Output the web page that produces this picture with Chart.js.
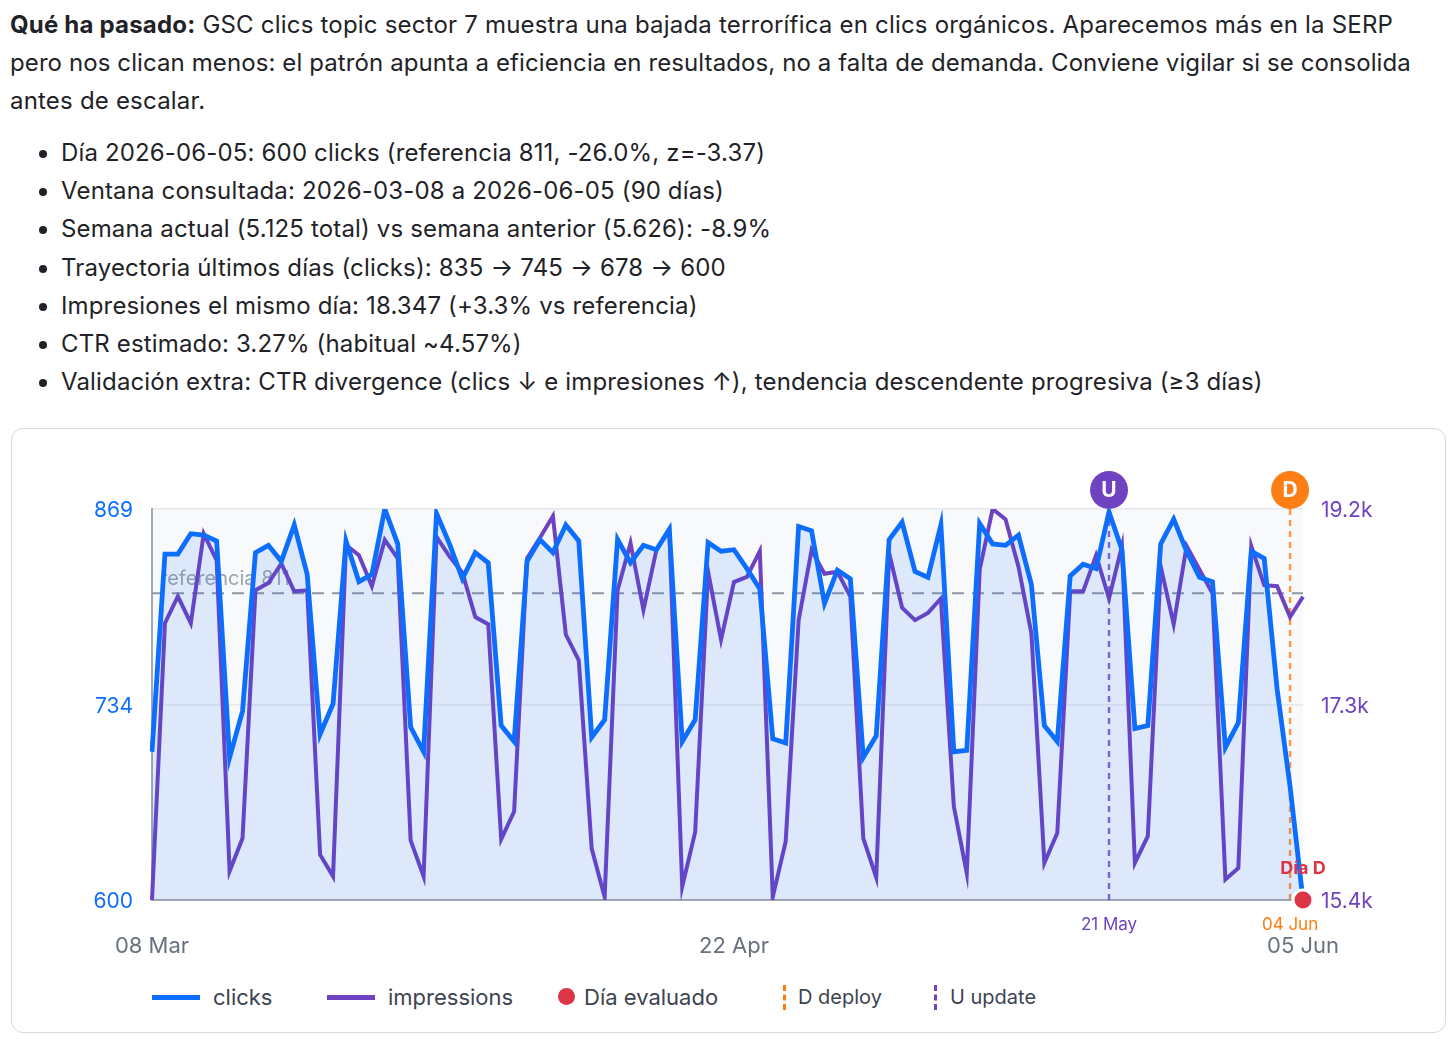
<!DOCTYPE html>
<html lang="es">
<head>
<meta charset="utf-8">
<script src="https://cdn.jsdelivr.net/npm/chart.js@4.4.1/dist/chart.umd.min.js"></script>
<style>
  html,body{margin:0;padding:0;background:#fff;}
  body{width:1456px;height:1042px;position:relative;overflow:hidden;font-family:Inter,"Noto Sans",sans-serif;color:#1f2328;}
  #intro{position:absolute;left:10px;top:6px;margin:0;font-size:24px;letter-spacing:0.2px;line-height:38px;white-space:nowrap;}
  #intro .l2{letter-spacing:0.1px;}
  #bullets{position:absolute;left:10px;top:134px;margin:0;padding-left:51px;font-size:24px;letter-spacing:0.15px;line-height:38.2px;white-space:nowrap;}
  #card{position:absolute;left:11px;top:428px;width:1435px;height:605px;box-sizing:border-box;border:1px solid #d6dae0;border-radius:12px;background:#fff;}
  #chartbox{position:absolute;left:0;top:0;width:1432px;height:540px;}
  .lg{position:absolute;top:997px;transform:translateY(-50%);font-size:22px;color:#3d4450;white-space:nowrap;line-height:1;}
  .sw{position:absolute;}
</style>
</head>
<body>
<p id="intro"><b>Qué ha pasado:</b> GSC clics topic sector 7 muestra una bajada terrorífica en clics orgánicos. Aparecemos más en la SERP<br><span class="l2">pero nos clican menos: el patrón apunta a eficiencia en resultados, no a falta de demanda. Conviene vigilar si se consolida</span><br>antes de escalar.</p>
<ul id="bullets">
  <li>Día 2026-06-05: 600 clicks (referencia 811, -26.0%, z=-3.37)</li>
  <li>Ventana consultada: 2026-03-08 a 2026-06-05 (90 días)</li>
  <li>Semana actual (5.125 total) vs semana anterior (5.626): -8.9%</li>
  <li>Trayectoria últimos días (clicks): 835 → 745 → 678 → 600</li>
  <li>Impresiones el mismo día: 18.347 (+3.3% vs referencia)</li>
  <li>CTR estimado: 3.27% (habitual ~4.57%)</li>
  <li>Validación extra: CTR divergence (clics ↓ e impresiones ↑), tendencia descendente progresiva (≥3 días)</li>
</ul>
<div id="card">
  <div id="chartbox"><canvas id="c" width="1432" height="540" style="width:1432px;height:540px"></canvas></div>
</div>

<!-- legend -->
<div class="sw" style="left:152px;top:995px;width:48px;height:5px;background:#0d6efd;"></div>
<div class="lg" style="left:213px;">clicks</div>
<div class="sw" style="left:327px;top:995px;width:48px;height:5px;background:#6f42c1;"></div>
<div class="lg" style="left:388px;">impressions</div>
<div class="sw" style="left:558px;top:988px;width:17px;height:17px;border-radius:50%;background:#dc3545;"></div>
<div class="lg" style="left:584px;">Día evaluado</div>
<div class="sw" style="left:783px;top:985px;width:0;height:25px;border-left:3px dashed #fd7e14;"></div>
<div class="lg" style="left:798px;font-size:20px;">D deploy</div>
<div class="sw" style="left:934px;top:985px;width:0;height:25px;border-left:3px dashed #6f42c1;"></div>
<div class="lg" style="left:950px;font-size:20px;">U update</div>

<script>
// ---------- data ----------
const startDate = '2026-03-08';
const clicks = [
  702, 838, 838, 852, 851, 847, 698, 730, 839, 844,
  833, 858, 824, 714, 735, 847, 819, 824, 869, 845,
  719, 702, 866, 845, 821, 839, 832, 720, 709, 833,
  848, 839, 858, 847, 712, 724, 848, 832, 844, 841,
  855, 709, 724, 846, 840, 841, 828, 814, 711, 708,
  857, 854, 804, 827, 821, 698, 713, 848, 860, 826,
  822, 858, 702, 703, 859, 845, 844, 851, 817, 720,
  709, 823, 831, 828, 867, 841, 718, 720, 845, 862,
  840, 822, 819, 705, 722, 840, 835, 745, 678, 600
];
const impressions = [
  15400, 18090, 18350, 18090, 18960, 18700, 15680, 16000, 18410, 18480,
  18670, 18400, 18410, 15840, 15630, 18850, 18750, 18450, 18900, 18720,
  15980, 15630, 18930, 18740, 18580, 18150, 18080, 15990, 16260, 18720,
  18920, 19130, 17980, 17730, 15900, 15430, 18410, 18870, 18220, 18800,
  19000, 15530, 16060, 18590, 17930, 18490, 18540, 18790, 15430, 15970,
  18120, 18800, 18570, 18590, 18350, 16000, 15620, 18770, 18240, 18120,
  18190, 18330, 16310, 15660, 18610, 19200, 19100, 18640, 17990, 15760,
  16050, 18400, 18400, 18750, 18330, 18840, 15760, 16020, 18640, 18080,
  18840, 18610, 18380, 15600, 15710, 18840, 18460, 18450, 18150, 18347
];
const referenceClicks = 811;
const evaluatedDate = '2026-06-05';
const eventDates = ['2026-05-21', '2026-06-04'];
const eventLetters = ['U', 'D'];
const eventLabels = ['21 May', '04 Jun'];
const xTickDates = ['2026-03-08', '2026-04-22', '2026-06-05'];
const xTickLabels = ['08 Mar', '22 Apr', '05 Jun'];
const clicksRange = [600, 869];
const clicksTickLabels = ['600', '734', '869'];
const imprRange = [15400, 19200];
const imprTickLabels = ['15.4k', '17.3k', '19.2k'];

// categories: consecutive days of the window
const dates = [];
{
  const [yy, mm, dd] = startDate.split('-').map(Number);
  for (let i = 0; i < clicks.length; i++) {
    dates.push(new Date(Date.UTC(yy, mm - 1, dd + i)).toISOString().slice(0, 10));
  }
}
const evalIdx = dates.indexOf(evaluatedDate);
const evalData = dates.map((d, i) => i === evalIdx ? clicks[i] : null);

// ---------- styles ----------
const C = {
  blue: '#0d6efd', purple: '#6f42c1', orange: '#fd7e14', red: '#dc3545',
  grid: '#e4e7eb', axis: '#a3a9b2', tick: '#69717d', plotBg: '#f8f9fb'
};
const eventColors = [C.purple, C.orange];
const FONT = 'Inter, "Noto Sans", sans-serif';

const annotPlugin = {
  id: 'annot',
  beforeDraw(chart) {
    const { ctx, chartArea: a } = chart;
    ctx.save();
    ctx.fillStyle = C.plotBg;
    ctx.fillRect(a.left, a.top, a.right - a.left, a.bottom - a.top);
    ctx.restore();
  },
  beforeDatasetsDraw(chart) {
    const { ctx, chartArea: a, scales } = chart;
    const x = scales.x, y = scales.y;
    ctx.save();
    const ry = y.getPixelForValue(referenceClicks);
    ctx.fillStyle = '#9ba3ad';
    ctx.font = '20px ' + FONT;
    ctx.textBaseline = 'alphabetic';
    ctx.textAlign = 'left';
    ctx.fillText('referencia ' + referenceClicks, a.left + 8, ry - 8);
    ctx.setLineDash([12, 8]);
    ctx.strokeStyle = '#8e97a3';
    ctx.lineWidth = 2;
    ctx.beginPath(); ctx.moveTo(a.left, ry); ctx.lineTo(a.right, ry); ctx.stroke();
    ctx.setLineDash([6, 5]);
    ctx.lineWidth = 2.5;
    eventDates.forEach((d, k) => {
      const ex = x.getPixelForValue(dates.indexOf(d));
      ctx.strokeStyle = eventColors[k];
      ctx.globalAlpha = 0.8;
      ctx.beginPath(); ctx.moveTo(ex, a.top); ctx.lineTo(ex, a.bottom); ctx.stroke();
    });
    ctx.restore();
  },
  afterDraw(chart) {
    const { ctx, chartArea: a, scales } = chart;
    const x = scales.x, y = scales.y;
    ctx.save();
    eventDates.forEach((d, k) => {
      const ex = x.getPixelForValue(dates.indexOf(d));
      ctx.fillStyle = eventColors[k];
      ctx.beginPath(); ctx.arc(ex, a.top - 19, 19, 0, Math.PI * 2); ctx.fill();
      ctx.fillStyle = '#fff';
      ctx.font = 'bold 21px ' + FONT;
      ctx.textAlign = 'center'; ctx.textBaseline = 'middle';
      ctx.fillText(eventLetters[k], ex, a.top - 18);
      ctx.fillStyle = eventColors[k];
      ctx.font = '17px ' + FONT;
      ctx.fillText(eventLabels[k], ex, a.bottom + 25);
    });
    const px = x.getPixelForValue(evalIdx), py = y.getPixelForValue(clicks[evalIdx]);
    ctx.fillStyle = C.red;
    ctx.font = 'bold 18px ' + FONT;
    ctx.textAlign = 'center'; ctx.textBaseline = 'middle';
    ctx.fillText('Día D', px, py - 31);
    ctx.restore();
  }
};

new Chart(document.getElementById('c'), {
  type: 'line',
  data: {
    labels: dates,
    datasets: [
      {
        label: 'Día evaluado', data: evalData, yAxisID: 'y',
        pointRadius: 10, pointBackgroundColor: C.red, pointBorderColor: '#fff', pointBorderWidth: 3,
        showLine: false, clip: false, order: 0
      },
      {
        label: 'clicks', data: clicks, yAxisID: 'y',
        borderColor: C.blue, borderWidth: 4.8, pointRadius: 0, tension: 0,
        fill: 'origin', backgroundColor: 'rgba(13,110,253,0.11)', order: 1
      },
      {
        label: 'impressions', data: impressions, yAxisID: 'y1',
        borderColor: C.purple, borderWidth: 4, pointRadius: 0, tension: 0,
        fill: false, order: 2
      }
    ]
  },
  options: {
    responsive: false,
    animation: false,
    devicePixelRatio: 1,
    layout: { padding: { top: 80, left: 0, right: 0, bottom: 0 } },
    plugins: { legend: { display: false }, tooltip: { enabled: false } },
    scales: {
      x: {
        type: 'category',
        offset: false,
        afterFit(s) { s.height = 69; },
        afterBuildTicks(s) { s.ticks = xTickDates.map(d => ({ value: dates.indexOf(d) })); },
        ticks: {
          autoSkip: false, maxRotation: 0, padding: 33,
          color: C.tick, font: { family: FONT, size: 22 },
          callback: (v, i) => xTickLabels[i]
        },
        grid: { display: true, color: 'transparent', drawTicks: false },
        border: { display: true, color: C.axis, width: 2 }
      },
      y: {
        position: 'left',
        min: clicksRange[0], max: clicksRange[1],
        afterFit(s) { s.width = 140; },
        afterBuildTicks(s) {
          const [lo, hi] = clicksRange;
          s.ticks = [{ value: lo }, { value: (lo + hi) / 2 }, { value: hi }];
        },
        ticks: { padding: 19, labelOffset: 2, color: C.blue, font: { family: FONT, size: 21 }, callback: (v, i) => clicksTickLabels[i] },
        grid: { color: C.grid, lineWidth: 1.5, drawTicks: false },
        border: { display: true, color: C.axis, width: 2 }
      },
      y1: {
        position: 'right',
        min: imprRange[0], max: imprRange[1],
        afterFit(s) { s.width = 141; },
        afterBuildTicks(s) {
          const [lo, hi] = imprRange;
          s.ticks = [{ value: lo }, { value: (lo + hi) / 2 }, { value: hi }];
        },
        ticks: { padding: 18, labelOffset: 2, color: C.purple, font: { family: FONT, size: 21 }, callback: (v, i) => imprTickLabels[i] },
        grid: { display: false, drawTicks: false },
        border: { display: false }
      }
    }
  },
  plugins: [annotPlugin]
});
</script>
</body>
</html>
